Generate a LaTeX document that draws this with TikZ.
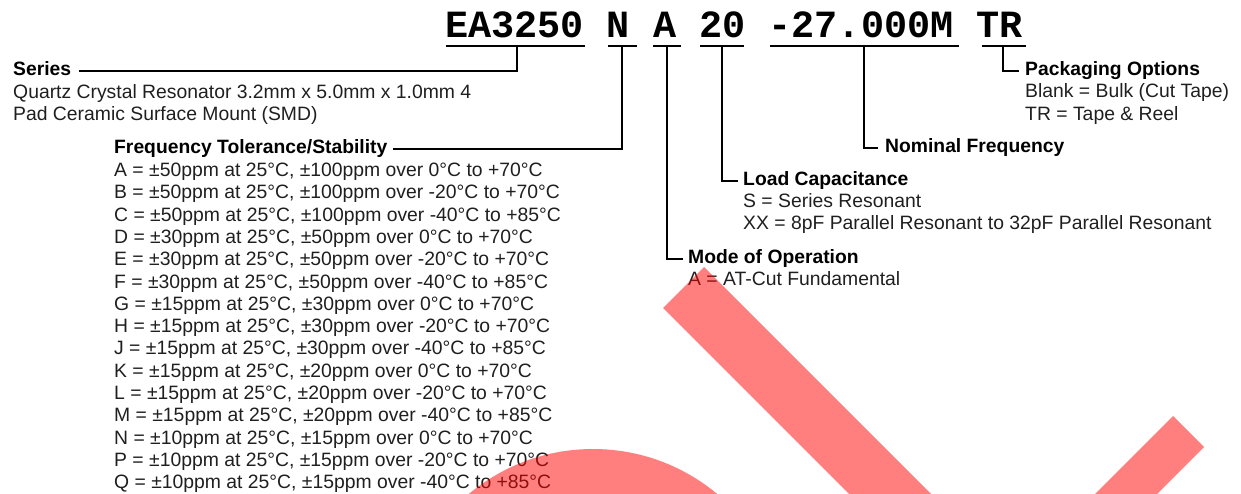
\documentclass[tikz,border=0pt]{standalone}
\usepackage{fontspec}
\setmainfont{Liberation Sans}
\newfontfamily\hdrfont{Liberation Mono}
\begin{document}
\begin{tikzpicture}[x=1pt,y=-1pt,
  txt/.style={inner sep=0pt,anchor=base west,font=\fontsize{19.35pt}{22pt}\selectfont,text=black!88},
  head/.style={txt,font=\fontsize{19.3pt}{22pt}\selectfont\bfseries,text=black},
  conn/.style={line width=2.6pt,black},
  uline/.style={line width=2.4pt,black},
  wm/.style={fill=red,fill opacity=0.5,draw=none}]
\useasboundingbox (0,0) rectangle (1241,493);
% header
\node[inner sep=0pt,anchor=base west,font=\hdrfont\bfseries\fontsize{38.5pt}{40pt}\selectfont] (hdr) at (445,37) {EA3250 N A 20 -27.000M TR};
% underline segments
\draw[uline] (446,46) -- (585,46);
\draw[uline] (608,46) -- (637,46);
\draw[uline] (653,46) -- (681,46);
\draw[uline] (700,46) -- (744,46);
\draw[uline] (770,46) -- (959,46);
\draw[uline] (982,46) -- (1026,46);
\coordinate (u1) at (517,46);
\coordinate (u2) at (622,46);
\coordinate (u3) at (667,46);
\coordinate (u4) at (722,46);
\coordinate (u5) at (864,46);
\coordinate (u6) at (1003,46);
% Series
\node[head] (series) at (13,75.5) {Series};
\node[txt] (ser1) at (13,98.5) {Quartz Crystal Resonator 3.2mm x 5.0mm x 1.0mm 4};
\node[txt] (ser2) at (13,120.5) {Pad Ceramic Surface Mount (SMD)};
% Frequency tolerance
\node[head] (freq) at (114,153.5) {Frequency Tolerance/Stability};
\foreach \i/\t in {0/{A = ±50ppm at 25°C, ±100ppm over 0°C to +70°C},
                   1/{B = ±50ppm at 25°C, ±100ppm over -20°C to +70°C},
                   2/{C = ±50ppm at 25°C, ±100ppm over -40°C to +85°C},
                   3/{D = ±30ppm at 25°C, ±50ppm over 0°C to +70°C},
                   4/{E = ±30ppm at 25°C, ±50ppm over -20°C to +70°C},
                   5/{F = ±30ppm at 25°C, ±50ppm over -40°C to +85°C},
                   6/{G = ±15ppm at 25°C, ±30ppm over 0°C to +70°C},
                   7/{H = ±15ppm at 25°C, ±30ppm over -20°C to +70°C},
                   8/{J = ±15ppm at 25°C, ±30ppm over -40°C to +85°C},
                   9/{K = ±15ppm at 25°C, ±20ppm over 0°C to +70°C},
                   10/{L = ±15ppm at 25°C, ±20ppm over -20°C to +70°C},
                   11/{M = ±15ppm at 25°C, ±20ppm over -40°C to +85°C},
                   12/{N = ±10ppm at 25°C, ±15ppm over 0°C to +70°C},
                   13/{P = ±10ppm at 25°C, ±15ppm over -20°C to +70°C},
                   14/{Q = ±10ppm at 25°C, ±15ppm over -40°C to +85°C}}
  \node[txt] (ft\i) at (114,176.5+22.3*\i) {\t};
% Packaging
\node[head] (pack) at (1025,75.5) {Packaging Options};
\node[txt] (pack1) at (1025,97.5) {Blank = Bulk (Cut Tape)};
\node[txt] (pack2) at (1025,120.5) {TR = Tape \& Reel};
% Nominal
\node[head] (nom) at (885,152.5) {Nominal Frequency};
% Load
\node[head] (load) at (743,185.5) {Load Capacitance};
\node[txt] (load1) at (743,207.5) {S = Series Resonant};
\node[txt] (load2) at (743,229.5) {XX = 8pF Parallel Resonant to 32pF Parallel Resonant};
% Mode
\node[head] (mode) at (688,263.5) {Mode of Operation};
\node[txt] (mode1) at (688,285.5) {A = AT-Cut Fundamental};
% connectors
\draw[conn] (u1) |- ([xshift=8pt,yshift=4.5pt]series.base east);
\draw[conn] (u2) |- ([xshift=5pt,yshift=4.5pt]freq.base east);
\draw[conn] (u3) |- ([xshift=-5pt,yshift=4.5pt]mode.base west);
\draw[conn] (u4) |- ([xshift=-5pt,yshift=4.5pt]load.base west);
\draw[conn] (u5) |- ([xshift=-7pt,yshift=4.5pt]nom.base west);
\draw[conn] (u6) |- ([xshift=-6pt,yshift=4.5pt]pack.base west);
% watermark
\begin{scope}
\clip (0,0) rectangle (1241,493);
\fill[wm] (663,308) -- (704,267) -- (1004,567) -- (963,608) -- cycle;
\fill[wm] (1173,416) -- (1204,447) -- (1004,647) -- (973,616) -- cycle;
\fill[wm] (593,643) circle[radius=194];
\end{scope}
\end{tikzpicture}
\end{document}
